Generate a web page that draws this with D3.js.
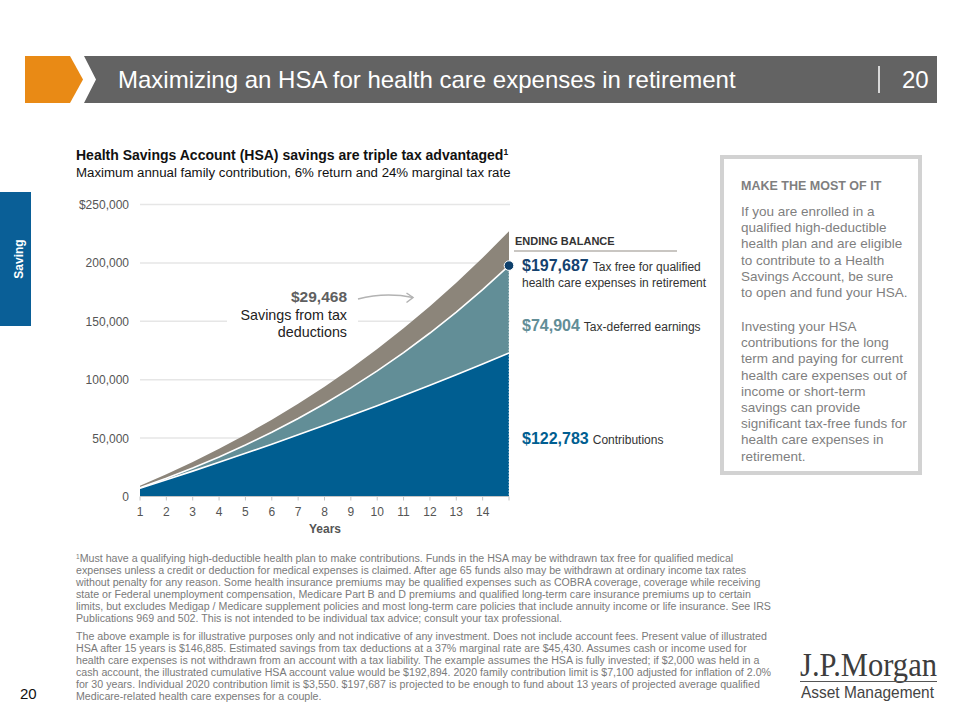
<!DOCTYPE html>
<html><head><meta charset="utf-8">
<script src="https://cdn.jsdelivr.net/npm/d3@7"></script>
<style>
body{margin:0;background:#fff;}
svg{display:block;font-family:"Liberation Sans",Arial,Helvetica,sans-serif;}
</style>
</head><body>
<svg id="c" width="960" height="720"></svg>
<script>
// ---------- data ----------
const years = [1,2,3,4,5,6,7,8,9,10,11,12,13,14,15];
const contributions = [7100,14342,21729,29263,36949,44788,52783,60939,69258,77743,86398,95226,104230,113415,122783];
const earnings = [426,1312,2695,4612,7106,10219,13999,18496,23761,29851,36826,44749,53688,63714,74904];
const taxSavings = [1704,3442,5215,7023,8868,10749,12668,14625,16622,18658,20735,22854,25015,27220,29468];
const seriesKeys = ["contributions","earnings","taxSavings"];
const seriesColors = ["#005e91","#628e97","#8c857a"];
const yTickValues = [0,50000,100000,150000,200000,250000];
const yTickLabels = ["0","50,000","100,000","150,000","200,000","$250,000"];
const xTickYears = [1,2,3,4,5,6,7,8,9,10,11,12,13,14];
const endingBalance = 197687;

const pageTitle = "Maximizing an HSA for health care expenses in retirement";
const pageNum = "20";
const chartTitle = "Health Savings Account (HSA) savings are triple tax advantaged";
const chartSubtitle = "Maximum annual family contribution, 6% return and 24% marginal tax rate";
const boxTitle = "MAKE THE MOST OF IT";
const boxPara1 = ["If you are enrolled in a","qualified high-deductible","health plan and are eligible","to contribute to a Health","Savings Account, be sure","to open and fund your HSA."];
const boxPara2 = ["Investing your HSA","contributions for the long","term and paying for current","health care expenses out of","income or short-term","savings can provide","significant tax-free funds for","health care expenses in","retirement."];
const foot1 = [
"Must have a qualifying high-deductible health plan to make contributions. Funds in the HSA may be withdrawn tax free for qualified medical",
"expenses unless a credit or deduction for medical expenses is claimed. After age 65 funds also may be withdrawn at ordinary income tax rates",
"without penalty for any reason. Some health insurance premiums may be qualified expenses such as COBRA coverage, coverage while receiving",
"state or Federal unemployment compensation, Medicare Part B and D premiums and qualified long-term care insurance premiums up to certain",
"limits, but excludes Medigap / Medicare supplement policies and most long-term care policies that include annuity income or life insurance. See IRS",
"Publications 969 and 502. This is not intended to be individual tax advice; consult your tax professional."];
const foot2 = [
"The above example is for illustrative purposes only and not indicative of any investment. Does not include account fees. Present value of illustrated",
"HSA after 15 years is $146,885. Estimated savings from tax deductions at a 37% marginal rate are $45,430. Assumes cash or income used for",
"health care expenses is not withdrawn from an account with a tax liability. The example assumes the HSA is fully invested; if $2,000 was held in a",
"cash account, the illustrated cumulative HSA account value would be $192,894. 2020 family contribution limit is $7,100 adjusted for inflation of 2.0%",
"for 30 years. Individual 2020 contribution limit is $3,550. $197,687 is projected to be enough to fund about 13 years of projected average qualified",
"Medicare-related health care expenses for a couple."];

// ---------- drawing ----------
const svg = d3.select("#c");

// Header
svg.append("polygon").attr("points","25,56 70,56 83,79.5 70,103 25,103").attr("fill","#e98a15");
svg.append("polygon").attr("points","84,56 937,56 937,103 84,103 96,79.5").attr("fill","#636363");
svg.append("text").attr("x",118).attr("y",88).attr("fill","#fff").attr("font-size",24).text(pageTitle);
svg.append("line").attr("x1",879).attr("x2",879).attr("y1",66).attr("y2",93).attr("stroke","#fff").attr("stroke-width",1.5);
svg.append("text").attr("x",902).attr("y",88).attr("fill","#fff").attr("font-size",24).text(pageNum);

// Side tab
svg.append("rect").attr("x",0).attr("y",192).attr("width",31).attr("height",134).attr("fill","#0a5f97");
svg.append("text").attr("transform","translate(22.5,259) rotate(-90)").attr("text-anchor","middle")
  .attr("fill","#fff").attr("font-weight","bold").attr("font-size",12).text("Saving");

// Chart titles
const t = svg.append("text").attr("x",76).attr("y",160).attr("fill","#111").attr("font-weight","bold").attr("font-size",14);
t.append("tspan").text(chartTitle);
t.append("tspan").attr("font-size",8.5).attr("dy",-5).text("1");
svg.append("text").attr("x",76).attr("y",177).attr("fill","#111").attr("font-size",13.25).text(chartSubtitle);

// Scales
const x = d3.scaleLinear().domain([1,15]).range([140,509]);
const y = d3.scaleLinear().domain([0,250000]).range([496.5,204.5]);

// Gridlines
svg.append("g").selectAll("line").data(yTickValues.filter(v=>v>0)).join("line")
  .attr("x1",140).attr("x2",510).attr("y1",d=>y(d)).attr("y2",d=>y(d))
  .attr("stroke","#e6e6e6").attr("stroke-width",1.5);

// Y labels
svg.append("g").selectAll("text").data(yTickValues).join("text")
  .attr("x",129).attr("y",d=>y(d)+4.5).attr("text-anchor","end")
  .attr("fill","#555").attr("font-size",12).text((d,i)=>yTickLabels[i]);

// White backing behind annotation
svg.append("rect").attr("x",227).attr("y",288).attr("width",131).attr("height",55).attr("fill","#fff");

// Stacked areas
const rows = years.map((yr,i)=>({year:yr,contributions:contributions[i],earnings:earnings[i],taxSavings:taxSavings[i]}));
const stack = d3.stack().keys(seriesKeys)(rows);
const area = d3.area().x(d=>x(d.data.year)).y0(d=>y(d[0])).y1(d=>y(d[1]));
svg.append("g").selectAll("path").data(stack).join("path")
  .attr("d",area).attr("fill",(d,i)=>seriesColors[i]);
const line = d3.line().x(d=>x(d.data.year)).y(d=>y(d[1]));
svg.append("g").selectAll("path").data(stack.slice(0,2)).join("path")
  .attr("d",line).attr("fill","none").attr("stroke","#fff").attr("stroke-width",1.6);
// faint dotted right edge
svg.append("line").attr("x1",x(15)-0.5).attr("x2",x(15)-0.5).attr("y1",y(endingBalance)).attr("y2",y(0))
  .attr("stroke","#fff").attr("stroke-opacity",0.6).attr("stroke-dasharray","1,2").attr("stroke-width",1);

// X axis
svg.append("line").attr("x1",x(1)).attr("x2",x(15)).attr("y1",y(0)).attr("y2",y(0)).attr("stroke","#c4c4c4").attr("stroke-width",1);
svg.append("g").selectAll("line").data(years).join("line")
  .attr("x1",d=>x(d)).attr("x2",d=>x(d)).attr("y1",y(0)).attr("y2",y(0)+4).attr("stroke","#c4c4c4");
svg.append("g").selectAll("text").data(xTickYears).join("text")
  .attr("x",d=>x(d)).attr("y",516).attr("text-anchor","middle").attr("fill","#555").attr("font-size",12).text(d=>d);
svg.append("text").attr("x",325).attr("y",533).attr("text-anchor","middle").attr("fill","#555")
  .attr("font-weight","bold").attr("font-size",12).text("Years");

// Ending balance dot
svg.append("circle").attr("cx",x(15)).attr("cy",y(endingBalance)).attr("r",4.8).attr("fill","#0d3f6b").attr("stroke","#fff").attr("stroke-width",1);

// Annotation
svg.append("text").attr("x",347).attr("y",302).attr("text-anchor","end").attr("fill","#5f5f5f")
  .attr("font-weight","bold").attr("font-size",15.5).text("$" + d3.format(",")(taxSavings[14]));
svg.append("text").attr("x",347).attr("y",320).attr("text-anchor","end").attr("fill","#222").attr("font-size",14.3).text("Savings from tax");
svg.append("text").attr("x",347).attr("y",337).attr("text-anchor","end").attr("fill","#222").attr("font-size",14.3).text("deductions");
svg.append("path").attr("d","M358,299 Q385,292 413,297.5").attr("fill","none").attr("stroke","#b3b3b3").attr("stroke-width",1.5);
svg.append("path").attr("d","M406.5,293 L413,297.5 L406.5,302.5").attr("fill","none").attr("stroke","#b3b3b3").attr("stroke-width",1.5);

// Ending balance labels
svg.append("text").attr("x",515).attr("y",245).attr("fill","#333").attr("font-weight","bold").attr("font-size",11).text("ENDING BALANCE");
svg.append("line").attr("x1",514).attr("x2",677).attr("y1",251).attr("y2",251).attr("stroke","#c9c6c2").attr("stroke-width",2);
function valLabel(yPos,val,color,desc){
  const tx = svg.append("text").attr("x",522).attr("y",yPos);
  tx.append("tspan").attr("fill",color).attr("font-weight","bold").attr("font-size",16).text("$"+d3.format(",")(val));
  tx.append("tspan").attr("fill","#333").attr("font-size",12).attr("dx",4).text(desc);
}
valLabel(271,endingBalance,"#14426f","Tax free for qualified");
svg.append("text").attr("x",522).attr("y",287).attr("fill","#333").attr("font-size",12).text("health care expenses in retirement");
valLabel(331,earnings[14],"#628e97","Tax-deferred earnings");
valLabel(444,contributions[14],"#005e91","Contributions");

// Right box
svg.append("rect").attr("x",722).attr("y",157).attr("width",198).attr("height",316).attr("fill","#fff").attr("stroke","#d2d2d2").attr("stroke-width",4);
svg.append("text").attr("x",741).attr("y",190).attr("fill","#7f7f7f").attr("font-weight","bold").attr("font-size",12.5).text(boxTitle);
svg.append("g").selectAll("text").data(boxPara1).join("text")
  .attr("x",741).attr("y",(d,i)=>216+i*16.2).attr("fill","#7f7f7f").attr("font-size",13.5).text(d=>d);
svg.append("g").selectAll("text").data(boxPara2).join("text")
  .attr("x",741).attr("y",(d,i)=>331+i*16.2).attr("fill","#7f7f7f").attr("font-size",13.5).text(d=>d);

// Footnotes
const f1 = svg.append("g").selectAll("text").data(foot1).join("text")
  .attr("x",76).attr("y",(d,i)=>562+i*11.9).attr("fill","#7a7a7a").attr("font-size",10.65);
f1.each(function(d,i){
  const s = d3.select(this);
  if(i===0){ s.append("tspan").attr("font-size",6.5).attr("dy",-3).text("1"); s.append("tspan").attr("dy",3).text(d); }
  else s.text(d);
});
svg.append("g").selectAll("text").data(foot2).join("text")
  .attr("x",76).attr("y",(d,i)=>640+i*12).attr("fill","#7a7a7a").attr("font-size",10.65).text(d=>d);

// Page number
svg.append("text").attr("x",20).attr("y",699).attr("fill","#111").attr("font-size",15).text(pageNum);

// Logo
svg.append("text").attr("x",800).attr("y",676).attr("fill","#3d3d3d").attr("font-family","'Liberation Serif','DejaVu Serif',serif")
  .attr("font-size",33).attr("textLength",137).attr("lengthAdjust","spacingAndGlyphs").text("J.P.Morgan");
svg.append("line").attr("x1",800).attr("x2",937).attr("y1",681.5).attr("y2",681.5).attr("stroke","#555").attr("stroke-width",1);
svg.append("text").attr("x",801).attr("y",698).attr("fill","#444").attr("font-size",17)
  .attr("textLength",133).attr("lengthAdjust","spacingAndGlyphs").text("Asset Management");
</script>
</body></html>
